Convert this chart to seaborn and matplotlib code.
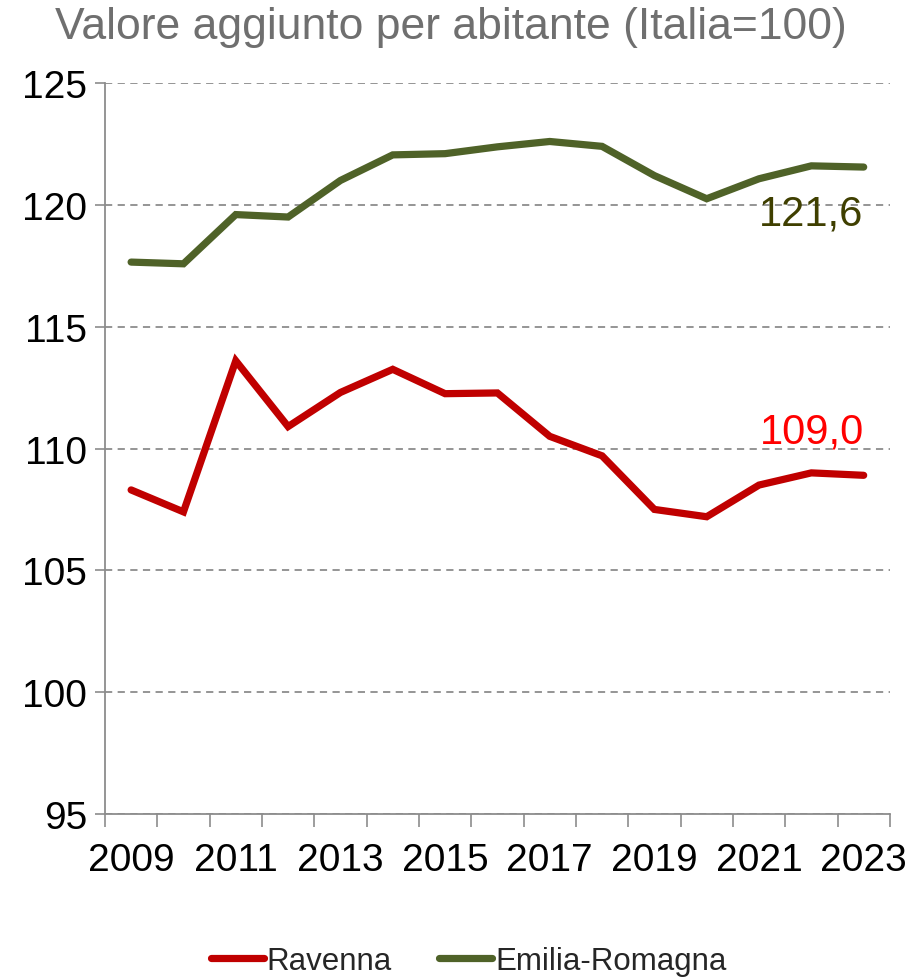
import pandas as pd
import matplotlib
matplotlib.use("Agg")
import matplotlib.pyplot as plt
import seaborn as sns
from matplotlib.ticker import FixedLocator

# dati (Italia = 100)
anni = list(range(2009, 2024))
ravenna = [108.3, 107.4, 113.6, 110.9, 112.3, 113.25, 112.25, 112.28, 110.5, 109.7,
           107.5, 107.2, 108.5, 109.0, 108.9]
emilia = [117.65, 117.58, 119.6, 119.5, 121.0, 122.05, 122.1, 122.38, 122.6, 122.4,
          121.2, 120.25, 121.07, 121.6, 121.55]
serie = ["Ravenna", "Emilia-Romagna"]
colori = ["#C00000", "#4F6228"]
y_ticks = [95, 100, 105, 110, 115, 120, 125]

sns.set_style("white")
plt.rcParams["font.family"] = ["Liberation Sans", "DejaVu Sans"]

df = pd.DataFrame({
    "idx": list(range(len(anni))) * 2,
    "valore": ravenna + emilia,
    "serie": [serie[0]] * len(anni) + [serie[1]] * len(anni),
})

fig = plt.figure(figsize=(9.08, 9.79), dpi=100)
ax = fig.add_axes([0.1156, 0.1675, 0.8644, 0.7467])

sns.lineplot(data=df, x="idx", y="valore", hue="serie", palette=colori,
             linewidth=5.2, ax=ax, legend=True)
for ln in ax.lines:
    ln.set_solid_capstyle("round")
    ln.set_solid_joinstyle("miter")

ax.set_xlim(-0.5, len(anni) - 0.5)
ax.set_ylim(95, 125)
ax.set_yticks(y_ticks)
ax.set_yticklabels([str(v) for v in y_ticks], fontsize=28, color="black")
ax.yaxis.grid(True, linestyle=(0, (4, 3)), color="#8c8c8c", linewidth=1.3)
ax.set_axisbelow(True)

ax.set_xticks(list(range(0, len(anni), 2)))
ax.set_xticklabels([str(anni[i]) for i in range(0, len(anni), 2)], fontsize=28,
                   color="black")
ax.xaxis.set_minor_locator(FixedLocator([i - 0.5 for i in range(len(anni) + 1)]))
ax.tick_params(axis="x", which="major", bottom=True, length=0, pad=20)
ax.tick_params(axis="x", which="minor", bottom=True, length=9, width=1.2,
               color="#8c8c8c")
ax.tick_params(axis="y", which="major", left=True, length=7, width=1.2,
               color="#8c8c8c", pad=6)

for s in ["top", "right"]:
    ax.spines[s].set_visible(False)
for s in ["left", "bottom"]:
    ax.spines[s].set_color("#8c8c8c")
    ax.spines[s].set_linewidth(1.3)
ax.set_xlabel("")
ax.set_ylabel("")

# etichette ultimo valore
ax.text(14.0, 119.65, "121,6", fontsize=30, color="#3F3F00",
        ha="right", va="center")
ax.text(14.0, 110.7, "109,0", fontsize=30, color="#FF0000",
        ha="right", va="center")

fig.text(0.497, 0.972, "Valore aggiunto per abitante (Italia=100)",
         fontsize=32, color="#6f6f6f", ha="center", va="center")

handles, labels = ax.get_legend_handles_labels()
ax.legend_.remove()
fig.legend(handles, labels, loc="center", bbox_to_anchor=(0.516, 0.017),
           ncol=2, frameon=False, fontsize=22.5, handlelength=1.7,
           handletextpad=0.1, columnspacing=1.5)

fig.savefig("out.png", dpi=100)
